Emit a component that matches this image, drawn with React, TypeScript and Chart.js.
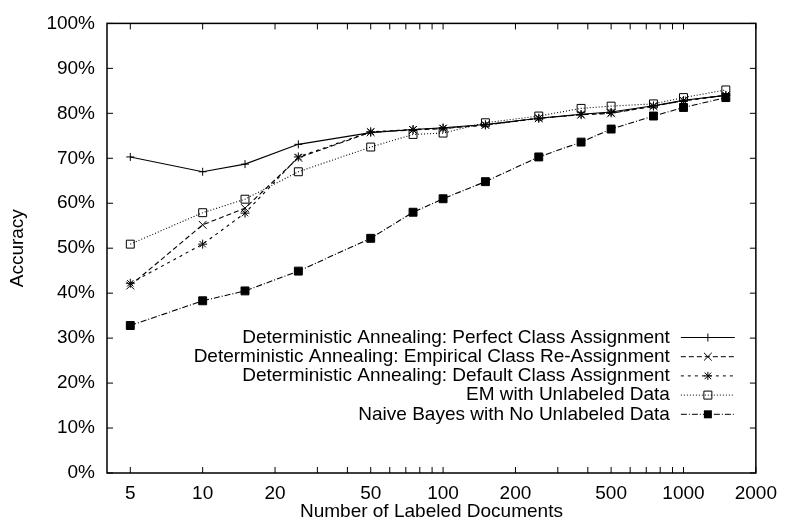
import React, { useEffect, useRef } from 'react';
import { Chart, registerables } from 'chart.js';

Chart.register(...registerables);

// ---- data ----
const docCounts = [5, 10, 15, 25, 50, 75, 100, 150, 250, 375, 500, 750, 1000, 1500];

const perfectAssign = [70.3, 67.0, 68.7, 73.1, 75.7, 76.4, 76.8, 77.5, 78.9, 79.8, 80.3, 81.7, 82.9, 84.0];
const empiricalReassign = [41.7, 55.2, 58.9, 70.1, 75.8, 76.3, 76.6, 77.4, 78.9, 79.7, 80.0, 81.6, 82.8, 84.0];
const defaultAssign = [42.2, 50.9, 57.8, 70.3, 75.9, 76.4, 76.7, 77.4, 78.9, 79.7, 80.1, 81.6, 82.8, 84.0];
const emUnlabeled = [50.9, 57.9, 60.9, 67.0, 72.5, 75.3, 75.6, 77.9, 79.4, 81.1, 81.6, 82.1, 83.5, 85.2];
const naiveBayes = [32.8, 38.3, 40.5, 44.9, 52.2, 58.0, 61.0, 64.8, 70.3, 73.6, 76.5, 79.4, 81.3, 83.5];

const seriesLabels = [
  'Deterministic Annealing: Perfect Class Assignment',
  'Deterministic Annealing: Empirical Class Re-Assignment',
  'Deterministic Annealing: Default Class Assignment',
  'EM with Unlabeled Data',
  'Naive Bayes with No Unlabeled Data',
];

const xTickValues = [5, 10, 20, 30, 40, 50, 60, 70, 80, 90, 100, 200, 300, 400, 500, 600, 700, 800, 900, 1000, 2000];
const xTickLabels = ['5', '10', '20', '50', '100', '200', '500', '1000', '2000'];
const yTickValues = [0, 10, 20, 30, 40, 50, 60, 70, 80, 90, 100];

const xAxisTitle = 'Number of Labeled Documents';
const yAxisTitle = 'Accuracy';

// ---- styles ----
const FONT = '"Liberation Sans", Arial, Helvetica, sans-serif';
const INK = '#000000';

type MarkerKind = 'plus' | 'x' | 'star' | 'box' | 'fbox';

const seriesValues = [perfectAssign, empiricalReassign, defaultAssign, emUnlabeled, naiveBayes];
const seriesDash: number[][] = [[], [5, 3], [3, 4], [1, 2], [6, 2, 1, 2]];
const seriesMarker: MarkerKind[] = ['plus', 'x', 'star', 'box', 'fbox'];
const chartPointStyle = ['cross', 'crossRot', 'star', 'rect', 'rect'];
const chartPointRadius = [4, 5.5, 4.5, 5.6, 5.6];

function drawMarker(ctx: CanvasRenderingContext2D, kind: MarkerKind, x: number, y: number) {
  const r = 4;
  const d = 3.3;
  ctx.save();
  ctx.setLineDash([]);
  ctx.lineWidth = 1;
  ctx.strokeStyle = INK;
  ctx.fillStyle = INK;
  ctx.beginPath();
  if (kind === 'plus' || kind === 'star') {
    ctx.moveTo(x - r, y);
    ctx.lineTo(x + r, y);
    ctx.moveTo(x, y - r);
    ctx.lineTo(x, y + r);
  }
  if (kind === 'x' || kind === 'star') {
    const q = kind === 'x' ? 3.9 : d;
    ctx.moveTo(x - q, y - q);
    ctx.lineTo(x + q, y + q);
    ctx.moveTo(x - q, y + q);
    ctx.lineTo(x + q, y - q);
  }
  if (kind === 'box') {
    ctx.rect(x - r, y - r, 2 * r, 2 * r);
  }
  ctx.stroke();
  if (kind === 'fbox') {
    ctx.fillRect(x - r, y - r, 2 * r, 2 * r);
  }
  ctx.restore();
}

const framePlugin = {
  id: 'gnuplotFrame',
  beforeDatasetsDraw(chart: any) {
    const { ctx, chartArea: a, scales } = chart;
    const xs = scales.x;
    const ys = scales.y;
    const t = 6;
    ctx.save();
    ctx.strokeStyle = INK;
    ctx.lineWidth = 1;
    ctx.setLineDash([]);
    ctx.beginPath();
    xTickValues.forEach((v) => {
      const px = xs.getPixelForValue(v);
      ctx.moveTo(px, a.bottom);
      ctx.lineTo(px, a.bottom - t);
      ctx.moveTo(px, a.top);
      ctx.lineTo(px, a.top + t);
    });
    yTickValues.forEach((v) => {
      const py = ys.getPixelForValue(v);
      ctx.moveTo(a.left, py);
      ctx.lineTo(a.left + t, py);
      ctx.moveTo(a.right, py);
      ctx.lineTo(a.right - t, py);
    });
    ctx.stroke();
    ctx.lineWidth = 1.5;
    ctx.strokeRect(a.left, a.top, a.right - a.left, a.bottom - a.top);
    ctx.restore();
  },
};

const keyPlugin = {
  id: 'gnuplotKey',
  afterDraw(chart: any) {
    const { ctx, chartArea: a } = chart;
    const textRight = a.right - 86;
    const lineL = a.right - 75;
    const lineR = a.right - 21;
    const row0 = a.bottom - 135.5;
    const rowH = 19.2;
    ctx.save();
    chart.data.datasets.forEach((ds: any, i: number) => {
      const y = row0 + i * rowH;
      ctx.font = `19px ${FONT}`;
      ctx.fillStyle = INK;
      ctx.textAlign = 'right';
      ctx.textBaseline = 'middle';
      ctx.fillText(ds.label, textRight, y);
      ctx.strokeStyle = INK;
      ctx.lineWidth = 1;
      ctx.setLineDash(seriesDash[i]);
      ctx.beginPath();
      ctx.moveTo(lineL, y);
      ctx.lineTo(lineR, y);
      ctx.stroke();
      drawMarker(ctx, seriesMarker[i], (lineL + lineR) / 2, y);
    });
    ctx.restore();
  },
};

export default function App() {
  const canvasRef = useRef<HTMLCanvasElement | null>(null);

  useEffect(() => {
    const canvas = canvasRef.current;
    if (!canvas) return;

    const datasets = seriesLabels.map((label, i) => ({
      label,
      data: docCounts.map((x, j) => ({ x, y: seriesValues[i][j] })),
      borderColor: INK,
      borderWidth: 1.1,
      borderDash: seriesDash[i],
      backgroundColor: i === 4 ? INK : 'rgba(0,0,0,0)',
      pointStyle: chartPointStyle[i] as any,
      pointRadius: chartPointRadius[i],
      pointBorderWidth: 1,
      pointBorderColor: INK,
      pointBackgroundColor: i === 4 ? INK : 'rgba(0,0,0,0)',
      tension: 0,
      fill: false,
    }));

    const chart = new Chart(canvas, {
      type: 'line',
      data: { datasets },
      options: {
        responsive: false,
        animation: false,
        devicePixelRatio: 1,
        layout: { padding: { top: 17, right: 23, left: 0, bottom: 0 } },
        plugins: {
          legend: { display: false },
          tooltip: { enabled: false },
        },
        scales: {
          x: {
            type: 'logarithmic',
            min: 4,
            max: 2000,
            bounds: 'data',
            grid: { display: false, drawTicks: false },
            border: { display: false },
            afterBuildTicks: (scale: any) => {
              scale.ticks = xTickValues.map((v) => ({ value: v }));
            },
            afterFit: (scale: any) => {
              scale.height = 48;
            },
            ticks: {
              autoSkip: false,
              maxRotation: 0,
              minRotation: 0,
              padding: 9,
              color: INK,
              font: { family: FONT, size: 19 },
              callback: (value: any) => {
                const s = String(value);
                return xTickLabels.includes(s) ? s : '';
              },
            },
            title: {
              display: true,
              text: xAxisTitle,
              color: INK,
              font: { family: FONT, size: 19, lineHeight: 1 },
              padding: { top: 0, bottom: 0 },
            },
          },
          y: {
            type: 'linear',
            min: 0,
            max: 100,
            grid: { display: false, drawTicks: false },
            border: { display: false },
            afterBuildTicks: (scale: any) => {
              scale.ticks = yTickValues.map((v) => ({ value: v }));
            },
            afterFit: (scale: any) => {
              scale.width = 107;
            },
            ticks: {
              padding: 12,
              color: INK,
              font: { family: FONT, size: 19 },
              callback: (value: any) => `${value}%`,
            },
            title: {
              display: true,
              text: yAxisTitle,
              color: INK,
              font: { family: FONT, size: 19, lineHeight: 1 },
              padding: { top: 8.5, bottom: 0 },
            },
          },
        },
      },
      plugins: [framePlugin, keyPlugin],
    });

    return () => {
      chart.destroy();
    };
  }, []);

  return (
    <div style={{ position: 'fixed', left: 0, top: 0, width: 786, height: 521, background: '#ffffff' }}>
      <canvas ref={canvasRef} width={786} height={521} style={{ display: 'block' }} />
    </div>
  );
}
